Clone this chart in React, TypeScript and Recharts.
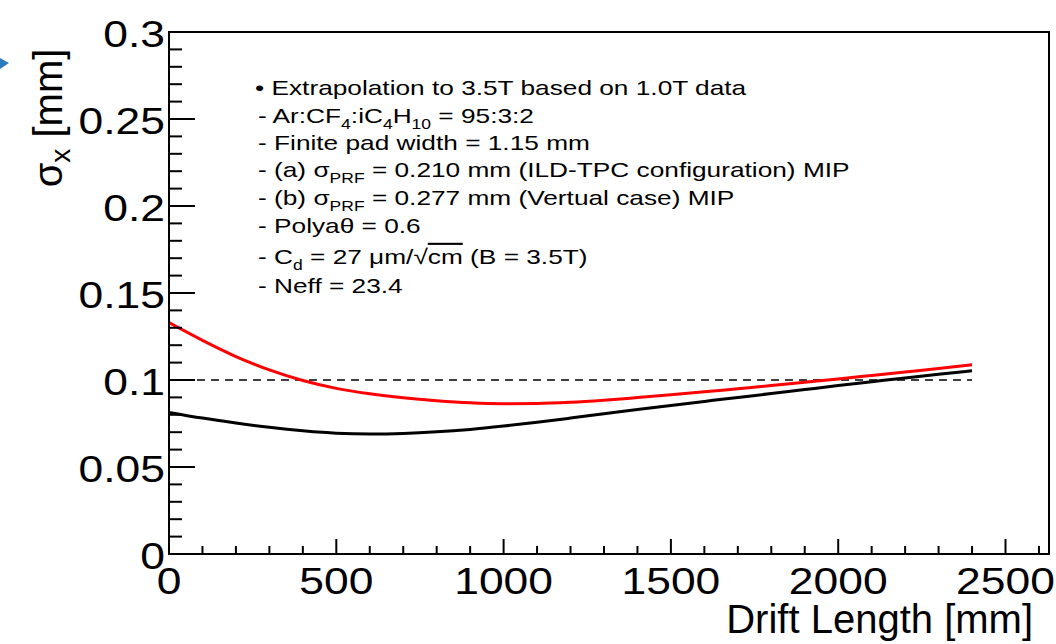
import React from "react";
import { LineChart, Line, XAxis, YAxis, ReferenceLine, ReferenceArea } from "recharts";

// Drift length [mm]
const driftLength = [0, 100, 200, 300, 400, 500, 600, 700, 800, 900, 1000, 1100, 1200, 1300, 1400, 1500, 1600, 1700, 1800, 1900, 2000, 2100, 2200, 2300, 2400];
// (a) sigma_PRF = 0.210 mm (black)
const sigmaA = [0.0814, 0.0781, 0.0753, 0.0728, 0.0708, 0.0694, 0.069, 0.0693, 0.0702, 0.0716, 0.0735, 0.0757, 0.0781, 0.0806, 0.0831, 0.0854, 0.0877, 0.09, 0.0922, 0.0945, 0.0968, 0.099, 0.1012, 0.1033, 0.1053];
// (b) sigma_PRF = 0.277 mm (red)
const sigmaB = [0.133, 0.1228, 0.1135, 0.1058, 0.0997, 0.0952, 0.0921, 0.0898, 0.0881, 0.0869, 0.0864, 0.0865, 0.0872, 0.0884, 0.0899, 0.0915, 0.0932, 0.095, 0.0968, 0.0987, 0.1006, 0.1026, 0.1046, 0.1066, 0.1087];

const goalLevel = 0.1;
const goalRange = [0, 2400];

const xTicks = [0, 100, 200, 300, 400, 500, 600, 700, 800, 900, 1000, 1100, 1200, 1300, 1400, 1500, 1600, 1700, 1800, 1900, 2000, 2100, 2200, 2300, 2400, 2500, 2600];
const xMajorValues = [0, 500, 1000, 1500, 2000, 2500];
const xMajorLabels = ["0", "500", "1000", "1500", "2000", "2500"];
const yTicks = [0, 0.01, 0.02, 0.03, 0.04, 0.05, 0.06, 0.07, 0.08, 0.09, 0.1, 0.11, 0.12, 0.13, 0.14, 0.15, 0.16, 0.17, 0.18, 0.19, 0.2, 0.21, 0.22, 0.23, 0.24, 0.25, 0.26, 0.27, 0.28, 0.29, 0.3];
const yMajorValues = [0, 0.05, 0.1, 0.15, 0.2, 0.25, 0.3];
const yMajorLabels = ["0", "0.05", "0.1", "0.15", "0.2", "0.25", "0.3"];

const X_MAX = 2630;
const Y_MAX = 0.3;

const FONT = "'Liberation Sans', Arial, Helvetica, sans-serif";

const chartData = driftLength.map((d, i) => ({ d, a: sigmaA[i], b: sigmaB[i] }));

const findMajor = (vals: number[], v: number) => vals.findIndex((m) => Math.abs(m - v) < 1e-9);

const YTick = (props: any) => {
  const { x, y, payload } = props;
  const idx = findMajor(yMajorValues, payload.value);
  const major = idx >= 0;
  return (
    <g>
      <line x1={x} x2={x + (major ? 26 : 13)} y1={y} y2={y} stroke="#000" strokeWidth={2} />
      {major && (
        <text
          transform={`translate(${x - 4},${y + 15}) scale(1.2,1)`}
          textAnchor="end"
          fontSize={37}
          fontFamily={FONT}
          fill="#000"
        >
          {yMajorLabels[idx]}
        </text>
      )}
    </g>
  );
};

const XTick = (props: any) => {
  const { x, y, payload } = props;
  const idx = findMajor(xMajorValues, payload.value);
  const major = idx >= 0;
  return (
    <g>
      <line x1={x} x2={x} y1={y} y2={y - (major ? 15 : 8)} stroke="#000" strokeWidth={2} />
      {major && (
        <text
          transform={`translate(${x},${y + 40}) scale(1.2,1)`}
          textAnchor="middle"
          fontSize={37}
          fontFamily={FONT}
          fill="#000"
        >
          {xMajorLabels[idx]}
        </text>
      )}
    </g>
  );
};

const annStyle = { fontSize: 21, fontFamily: FONT, fill: "#000" } as const;

const Sub = ({ children }: { children: React.ReactNode }) => (
  <tspan fontSize={14} dy={6}>{children}</tspan>
);
const Back = ({ children }: { children: React.ReactNode }) => <tspan dy={-6}>{children}</tspan>;

const AnnLine = ({ x, y, children }: { x: number; y: number; children: React.ReactNode }) => (
  <text transform={`translate(${x},${y}) scale(1.25,1)`} {...annStyle}>
    {children}
  </text>
);

export default function App() {
  return (
    <div style={{ position: "absolute", left: 0, top: 0, width: 1056, height: 644, background: "#fff" }}>
      <LineChart
        width={1056}
        height={644}
        data={chartData}
        margin={{ top: 32, right: 7, left: 0, bottom: 0 }}
        style={{ fontFamily: FONT }}
      >
        <XAxis
          dataKey="d"
          type="number"
          domain={[0, X_MAX]}
          ticks={xTicks}
          interval={0}
          tickSize={0}
          tickMargin={0}
          tickLine={false}
          tick={<XTick />}
          height={90}
          axisLine={{ stroke: "#000", strokeWidth: 2 }}
          allowDataOverflow
        />
        <YAxis
          type="number"
          domain={[0, Y_MAX]}
          ticks={yTicks}
          interval={0}
          tickSize={0}
          tickMargin={0}
          tickLine={false}
          tick={<YTick />}
          width={169}
          axisLine={{ stroke: "#000", strokeWidth: 2 }}
          allowDataOverflow
        />
        <ReferenceArea
          x1={0}
          x2={X_MAX}
          y1={0}
          y2={Y_MAX}
          fill="none"
          fillOpacity={0}
          stroke="#000"
          strokeWidth={2}
          ifOverflow="visible"
        />
        <ReferenceLine
          segment={[
            { x: goalRange[0], y: goalLevel },
            { x: goalRange[1], y: goalLevel },
          ]}
          stroke="#000"
          strokeWidth={1.5}
          strokeDasharray="8 6"
        />
        <Line
          dataKey="b"
          type="monotone"
          stroke="#ff0000"
          strokeWidth={3}
          dot={false}
          isAnimationActive={false}
        />
        <Line
          dataKey="a"
          type="monotone"
          stroke="#000"
          strokeWidth={3}
          dot={false}
          isAnimationActive={false}
        />
      </LineChart>
      <svg
        width={1056}
        height={644}
        style={{ position: "absolute", left: 0, top: 0, pointerEvents: "none" }}
      >
        <polygon points="0,58 9,63 0,69" fill="#2b7bbd" />
        <text
          transform="translate(62,118) rotate(-90)"
          textAnchor="middle"
          fontSize={40}
          fontFamily={FONT}
          fill="#000"
        >
          σ<tspan fontSize={28} dy={8}>x</tspan>
          <tspan dy={-8}> [mm]</tspan>
        </text>
        <text x={1033} y={633} textAnchor="end" fontSize={40} fontFamily={FONT} fill="#000">
          Drift Length [mm]
        </text>
        <AnnLine x={255} y={95}>• Extrapolation to 3.5T based on 1.0T data</AnnLine>
        <AnnLine x={258} y={123}>
          - Ar:CF<Sub>4</Sub>
          <Back>:iC</Back>
          <Sub>4</Sub>
          <Back>H</Back>
          <Sub>10</Sub>
          <Back> = 95:3:2</Back>
        </AnnLine>
        <AnnLine x={258} y={150}>- Finite pad width = 1.15 mm</AnnLine>
        <AnnLine x={258} y={177}>
          - (a) σ<Sub>PRF</Sub>
          <Back> = 0.210 mm (ILD-TPC configuration) MIP</Back>
        </AnnLine>
        <AnnLine x={258} y={205}>
          - (b) σ<Sub>PRF</Sub>
          <Back> = 0.277 mm (Vertual case) MIP</Back>
        </AnnLine>
        <AnnLine x={258} y={233}>- Polyaθ = 0.6</AnnLine>
        <AnnLine x={258} y={264}>
          - C<Sub>d</Sub>
          <Back> = 27 μm/√</Back>
          <tspan style={{ textDecoration: "overline" }}>cm</tspan> (B = 3.5T)
        </AnnLine>
        <AnnLine x={258} y={293}>- Neff = 23.4</AnnLine>
      </svg>
    </div>
  );
}
